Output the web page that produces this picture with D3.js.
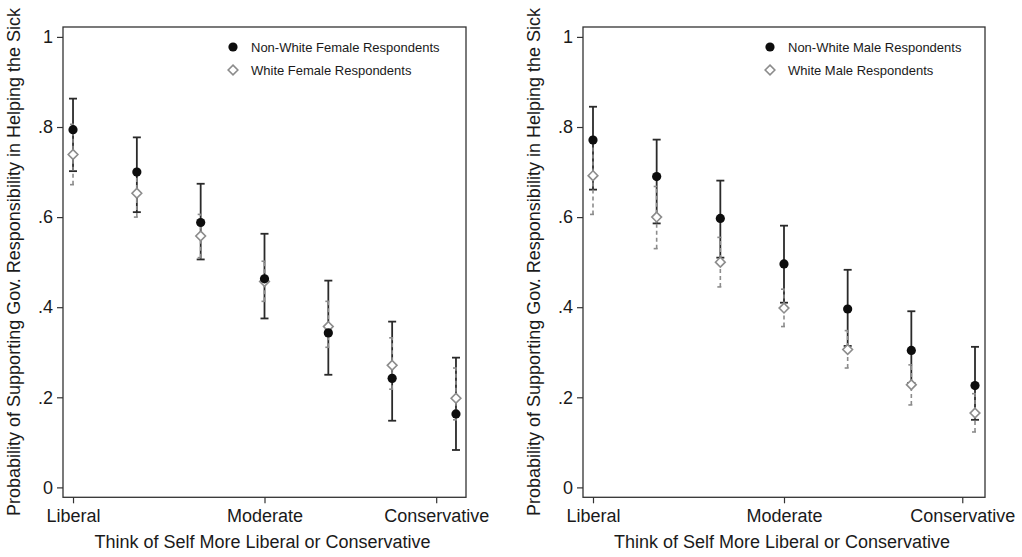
<!DOCTYPE html>
<html>
<head>
<meta charset="utf-8">
<script src="https://cdn.jsdelivr.net/npm/d3@7"></script>
<style>
  html, body { margin: 0; padding: 0; background: #fff; }
  svg text { font-family: "Liberation Sans", Arial, Helvetica, sans-serif; fill: #1a1a1a; }
</style>
</head>
<body>
<svg id="chart" width="1022" height="557"></svg>
<script>
// ---- Data ----
const ideology = [1, 2, 3, 4, 5, 6, 7];
const xTickLabels = ["Liberal", "Moderate", "Conservative"];
const xTickValuesFemale = [1, 4, 6.69];
const xTickValuesMale = [1, 4, 6.8];
const yTickValues = [0, 0.2, 0.4, 0.6, 0.8, 1];
const yTickLabels = ["0", ".2", ".4", ".6", ".8", "1"];

// Female panel
const femaleNonWhite     = [0.794, 0.700, 0.588, 0.463, 0.343, 0.242, 0.163];
const femaleNonWhiteLo   = [0.702, 0.611, 0.506, 0.375, 0.250, 0.148, 0.083];
const femaleNonWhiteHi   = [0.863, 0.777, 0.674, 0.563, 0.459, 0.368, 0.288];
const femaleWhite        = [0.739, 0.653, 0.558, 0.457, 0.357, 0.271, 0.198];
const femaleWhiteLo      = [0.672, 0.600, 0.510, 0.413, 0.311, 0.218, 0.150];
const femaleWhiteHi      = [0.806, 0.706, 0.606, 0.502, 0.413, 0.332, 0.265];

// Male panel
const maleNonWhite       = [0.771, 0.690, 0.597, 0.496, 0.396, 0.304, 0.226];
const maleNonWhiteLo     = [0.661, 0.586, 0.510, 0.410, 0.314, 0.232, 0.150];
const maleNonWhiteHi     = [0.845, 0.772, 0.681, 0.581, 0.483, 0.391, 0.312];
const maleWhite          = [0.692, 0.600, 0.500, 0.398, 0.306, 0.228, 0.165];
const maleWhiteLo        = [0.606, 0.530, 0.445, 0.357, 0.265, 0.183, 0.123];
const maleWhiteHi        = [0.778, 0.668, 0.555, 0.440, 0.348, 0.272, 0.208];

const yTitle = "Probability of Supporting Gov. Responsibility in Helping the Sick";
const xTitle = "Think of Self More Liberal or Conservative";

const panels = [
  { left: 63, right: 466, xTicks: xTickValuesFemale,
    nw: femaleNonWhite, nwLo: femaleNonWhiteLo, nwHi: femaleNonWhiteHi,
    w: femaleWhite, wLo: femaleWhiteLo, wHi: femaleWhiteHi,
    legend: ["Non-White Female Respondents", "White Female Respondents"],
    legendX: 233, yTitleX: 20 },
  { left: 583, right: 985, xTicks: xTickValuesMale,
    nw: maleNonWhite, nwLo: maleNonWhiteLo, nwHi: maleNonWhiteHi,
    w: maleWhite, wLo: maleWhiteLo, wHi: maleWhiteHi,
    legend: ["Non-White Male Respondents", "White Male Respondents"],
    legendX: 770, yTitleX: 540 }
];

const svg = d3.select("#chart");
const plotTop = 27, plotBottom = 497.3;
const y = d3.scaleLinear().domain([-0.022, 1.022]).range([plotBottom, plotTop]);
const diamond = d3.symbol().type(d3.symbolDiamond2 || d3.symbolDiamond).size(60);
const darkStroke = "#2a2a2a";
const grey = "#8c8c8c";

panels.forEach(p => {
  const x = d3.scaleLinear().domain([0.843, 7.157]).range([p.left, p.right]);
  const g = svg.append("g");

  // Frame
  g.append("rect").attr("x", p.left).attr("y", plotTop)
    .attr("width", p.right - p.left).attr("height", plotBottom - plotTop)
    .attr("fill", "none").attr("stroke", "#333").attr("stroke-width", 1.3);

  // Y axis
  const yAxis = d3.axisLeft(y).tickValues(yTickValues)
    .tickFormat((d, i) => yTickLabels[i]).tickSize(6).tickPadding(4);
  const ya = g.append("g").attr("transform", `translate(${p.left},0)`).call(yAxis);
  ya.select(".domain").remove();
  ya.selectAll(".tick line").attr("stroke", "#333").attr("stroke-width", 1.2);
  ya.selectAll(".tick text").attr("font-size", 18).attr("fill", "#1a1a1a")
    .style("font-family", "'Liberation Sans', Arial, sans-serif");

  // X axis
  const xAxis = d3.axisBottom(x).tickValues(p.xTicks)
    .tickFormat((d, i) => xTickLabels[i]).tickSize(6).tickPadding(6);
  const xa = g.append("g").attr("transform", `translate(0,${plotBottom})`).call(xAxis);
  xa.select(".domain").remove();
  xa.selectAll(".tick line").attr("stroke", "#333").attr("stroke-width", 1.2);
  xa.selectAll(".tick text").attr("font-size", 18).attr("fill", "#1a1a1a")
    .style("font-family", "'Liberation Sans', Arial, sans-serif");

  // Titles
  g.append("text").attr("x", (p.left + p.right) / 2 - 2).attr("y", 548)
    .attr("text-anchor", "middle").attr("font-size", 18).text(xTitle);
  g.append("text").attr("transform", `translate(${p.yTitleX},262) rotate(-90)`)
    .attr("text-anchor", "middle").attr("font-size", 18).text(yTitle);

  // Non-white CIs (solid black with caps)
  const cap = 4;
  ideology.forEach((v, i) => {
    const cx = x(v);
    g.append("line").attr("x1", cx).attr("x2", cx)
      .attr("y1", y(p.nwLo[i])).attr("y2", y(p.nwHi[i]))
      .attr("stroke", darkStroke).attr("stroke-width", 1.8);
    [p.nwLo[i], p.nwHi[i]].forEach(val => {
      g.append("line").attr("x1", cx - cap).attr("x2", cx + cap)
        .attr("y1", y(val)).attr("y2", y(val))
        .attr("stroke", darkStroke).attr("stroke-width", 1.8);
    });
  });

  // White CIs (grey dashed with small caps)
  ideology.forEach((v, i) => {
    const cx = x(v);
    g.append("line").attr("x1", cx).attr("x2", cx)
      .attr("y1", y(p.wLo[i])).attr("y2", y(p.wHi[i]))
      .attr("stroke", grey).attr("stroke-width", 1.6)
      .attr("stroke-dasharray", "4,3");
    [p.wLo[i], p.wHi[i]].forEach(val => {
      g.append("line").attr("x1", cx - 3).attr("x2", cx + 1)
        .attr("y1", y(val)).attr("y2", y(val))
        .attr("stroke", grey).attr("stroke-width", 1.6);
    });
  });

  // White points (hollow diamonds)
  g.selectAll(".wpt").data(ideology).enter().append("path")
    .attr("d", diamond)
    .attr("transform", (v, i) => `translate(${x(v)},${y(p.w[i])})`)
    .attr("fill", "#fff").attr("stroke", grey).attr("stroke-width", 1.6);

  // Non-white points (filled circles)
  g.selectAll(".nwpt").data(ideology).enter().append("circle")
    .attr("cx", v => x(v)).attr("cy", (v, i) => y(p.nw[i]))
    .attr("r", 4.6).attr("fill", "#0d0d0d");

  // Legend
  const lg = g.append("g");
  lg.append("circle").attr("cx", p.legendX).attr("cy", 47).attr("r", 4.6).attr("fill", "#0d0d0d");
  lg.append("path").attr("d", diamond)
    .attr("transform", `translate(${p.legendX},70)`)
    .attr("fill", "#fff").attr("stroke", grey).attr("stroke-width", 1.6);
  lg.append("text").attr("x", p.legendX + 18).attr("y", 51.5).attr("font-size", 13).text(p.legend[0]);
  lg.append("text").attr("x", p.legendX + 18).attr("y", 74.5).attr("font-size", 13).text(p.legend[1]);
});
</script>
</body>
</html>
